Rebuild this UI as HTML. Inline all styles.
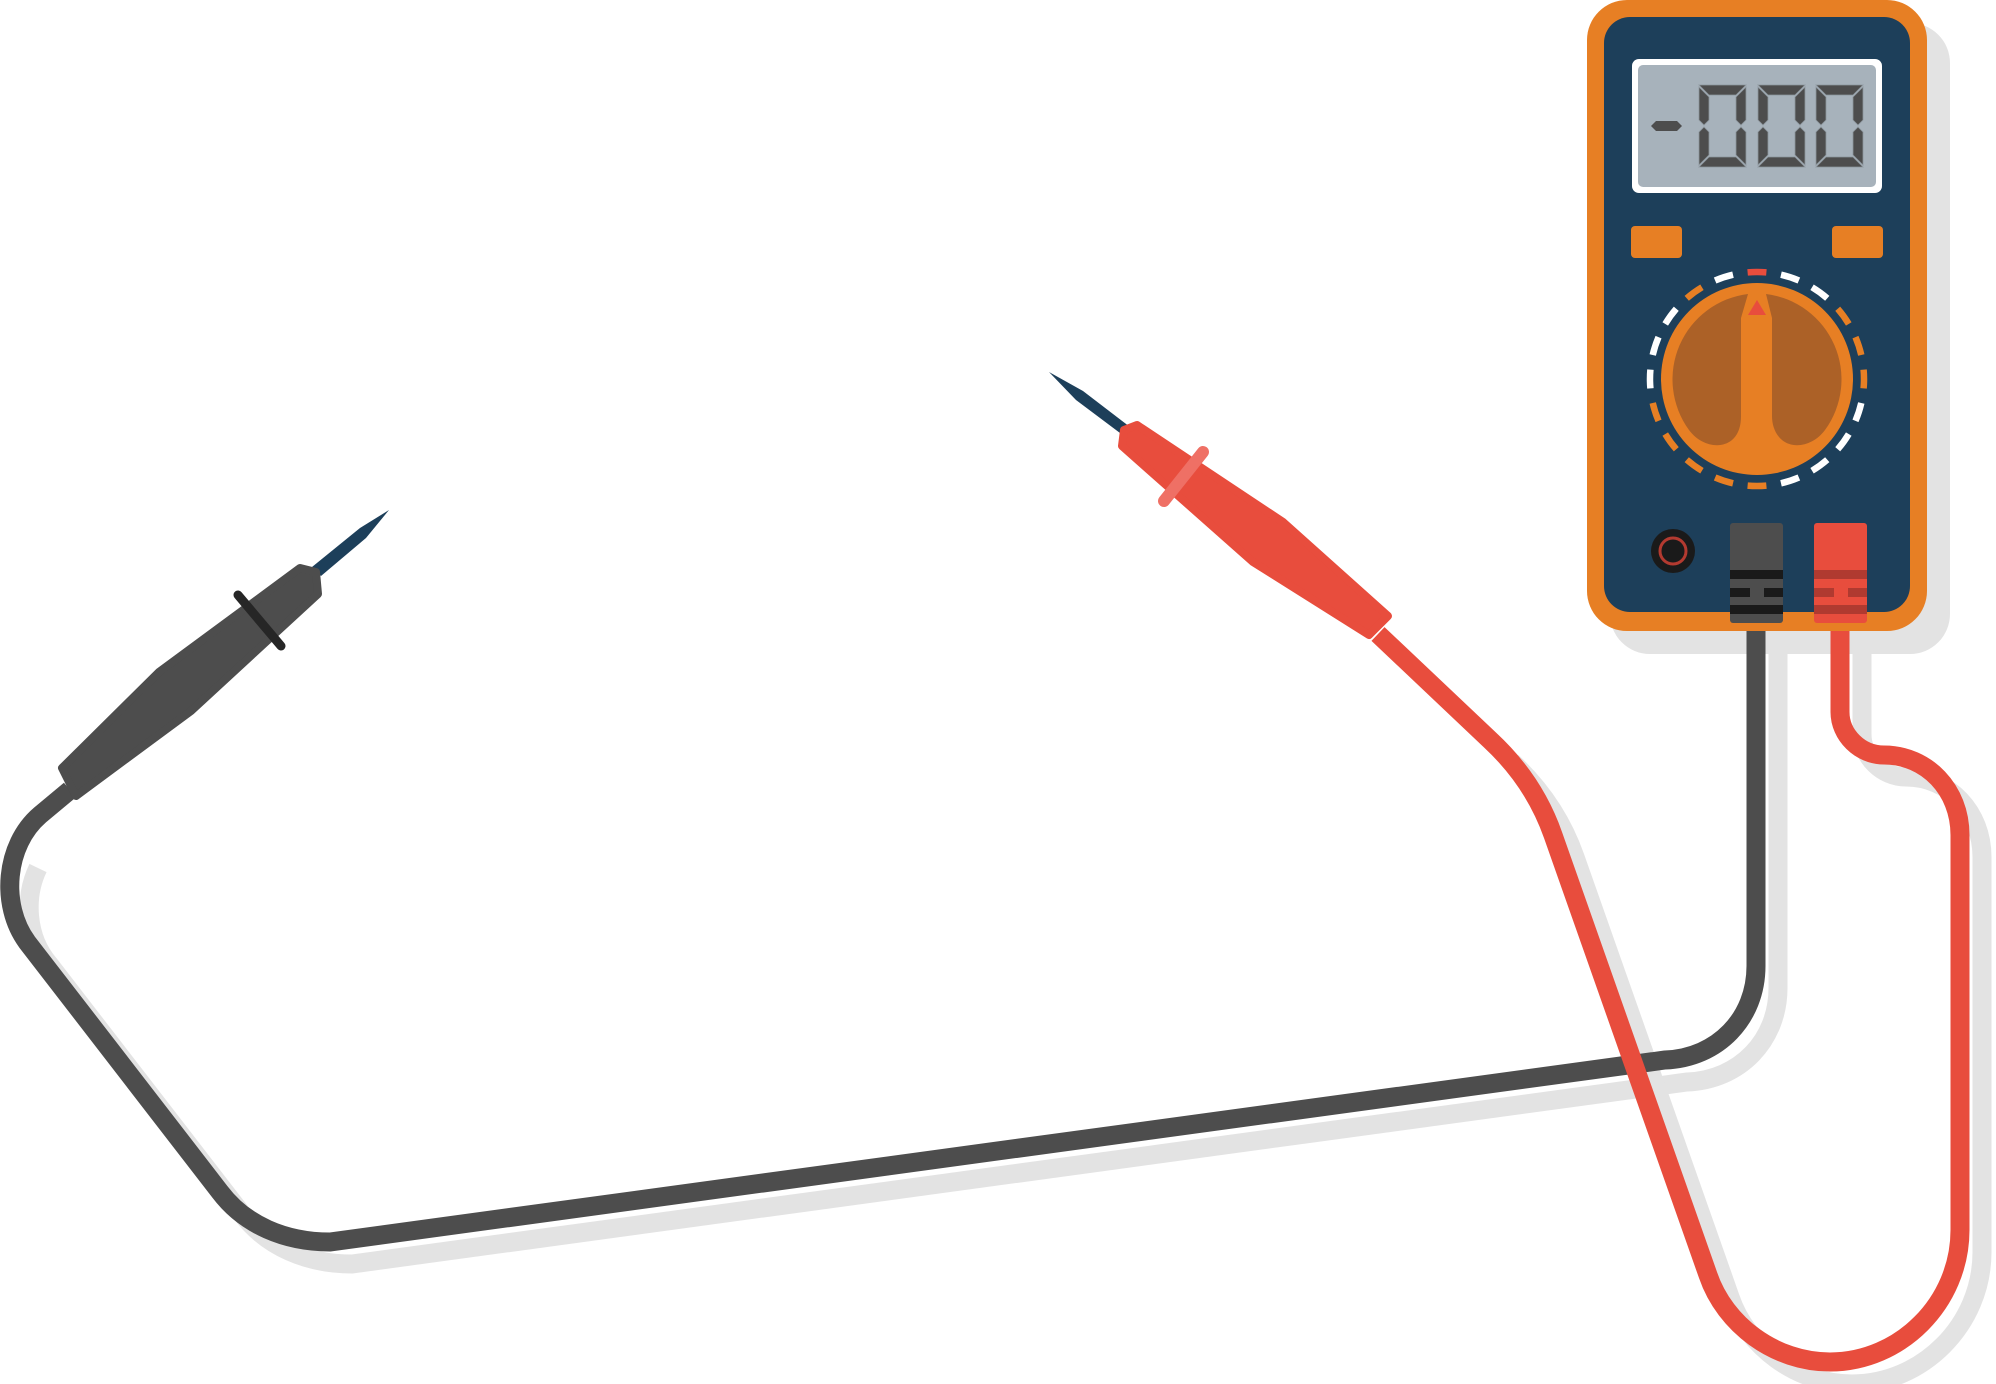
<!DOCTYPE html>
<html><head><meta charset="utf-8"><style>
html,body{margin:0;padding:0;background:#fff;}
svg{display:block;}
</style></head><body>
<svg width="1996" height="1384" viewBox="0 0 1996 1384" xmlns="http://www.w3.org/2000/svg">
<!-- shadows -->
<g fill="none" stroke="#e3e3e3" stroke-width="19" transform="translate(22,22)">
  <path d="M 16,846 C 2,875 4,915 27,942 L 220,1192 C 245,1225 285,1242 330,1242 L 1665,1060 C 1718,1058 1756,1018 1756,966 L 1756,626"/>
  <path d="M 1840,626 L 1840,712 C 1840,735 1860,755 1884,755 C 1927,755 1960,790 1960,835 L 1960,1230 C 1960,1303 1900,1362 1830,1362 C 1775,1362 1725,1325 1708,1275 L 1553,835 C 1540,798 1518,766 1490,740"/>
</g>
<rect x="1610" y="23" width="340" height="631" rx="40" fill="#e3e3e3"/>
<!-- cables -->
<g fill="none" stroke-width="19" stroke-linecap="butt">
  <path stroke="#4d4d4d" d="M 70,790 L 40,815 C 5,845 0,905 27,942 L 220,1192 C 245,1225 285,1242 330,1242 L 1665,1060 C 1718,1058 1756,1018 1756,966 L 1756,615"/>
  <path stroke="#e84d3d" d="M 1840,615 L 1840,712 C 1840,735 1860,755 1884,755 C 1927,755 1960,790 1960,835 L 1960,1230 C 1960,1303 1900,1362 1830,1362 C 1775,1362 1725,1325 1708,1275 L 1553,835 C 1540,798 1518,766 1490,740 L 1378,634"/>
</g>
<!-- multimeter -->
<rect x="1587" y="0" width="340" height="631" rx="40" fill="#e77f24"/>
<rect x="1604" y="17" width="306" height="595" rx="26" fill="#1d3f5a"/>
<rect x="1632" y="59" width="250" height="134" rx="7" fill="#ffffff"/>
<rect x="1638" y="65" width="238" height="122" rx="5" fill="#a7b2bb"/>
<polygon points="1651,126 1656,121 1677,121 1682,126 1677,131 1656,131" fill="#4d4d4d"/>
<g fill="#4d4d4d" stroke="#8c959c" stroke-width="0.8">
  <g id="d1">
    <polygon points="1699,85 1746,85 1736,95 1709,95"/>
    <polygon points="1699,87 1709,97 1709,120 1704,125 1699,120"/>
    <polygon points="1746,87 1736,97 1736,120 1741,125 1746,120"/>
    <polygon points="1699,132 1704,127 1709,132 1709,155 1699,165"/>
    <polygon points="1746,132 1741,127 1736,132 1736,155 1746,165"/>
    <polygon points="1709,157 1736,157 1746,167 1699,167"/>
  </g>
  <use href="#d1" transform="translate(59,0)"/>
  <use href="#d1" transform="translate(117,0)"/>
</g>
<rect x="1631" y="226" width="51" height="32" rx="4" fill="#e77f24"/>
<rect x="1832" y="226" width="51" height="32" rx="4" fill="#e77f24"/>
<!-- dial -->
<g fill="none" stroke-width="6.5">
  <path d="M 1747.6,272.4 A 107 107 0 0 1 1766.4,272.4" stroke="#e84d3d"/>
  <path d="M 1747.6,272.4 A 107 107 0 0 1 1766.4,272.4" stroke="#fff" transform="rotate(18 1757 379)"/>
  <path d="M 1747.6,272.4 A 107 107 0 0 1 1766.4,272.4" stroke="#fff" transform="rotate(36 1757 379)"/>
  <path d="M 1747.6,272.4 A 107 107 0 0 1 1766.4,272.4" stroke="#e77f24" transform="rotate(54 1757 379)"/>
  <path d="M 1747.6,272.4 A 107 107 0 0 1 1766.4,272.4" stroke="#e77f24" transform="rotate(72 1757 379)"/>
  <path d="M 1747.6,272.4 A 107 107 0 0 1 1766.4,272.4" stroke="#e77f24" transform="rotate(90 1757 379)"/>
  <path d="M 1747.6,272.4 A 107 107 0 0 1 1766.4,272.4" stroke="#fff" transform="rotate(108 1757 379)"/>
  <path d="M 1747.6,272.4 A 107 107 0 0 1 1766.4,272.4" stroke="#fff" transform="rotate(126 1757 379)"/>
  <path d="M 1747.6,272.4 A 107 107 0 0 1 1766.4,272.4" stroke="#fff" transform="rotate(144 1757 379)"/>
  <path d="M 1747.6,272.4 A 107 107 0 0 1 1766.4,272.4" stroke="#fff" transform="rotate(162 1757 379)"/>
  <path d="M 1747.6,272.4 A 107 107 0 0 1 1766.4,272.4" stroke="#e77f24" transform="rotate(180 1757 379)"/>
  <path d="M 1747.6,272.4 A 107 107 0 0 1 1766.4,272.4" stroke="#e77f24" transform="rotate(198 1757 379)"/>
  <path d="M 1747.6,272.4 A 107 107 0 0 1 1766.4,272.4" stroke="#e77f24" transform="rotate(216 1757 379)"/>
  <path d="M 1747.6,272.4 A 107 107 0 0 1 1766.4,272.4" stroke="#e77f24" transform="rotate(234 1757 379)"/>
  <path d="M 1747.6,272.4 A 107 107 0 0 1 1766.4,272.4" stroke="#e77f24" transform="rotate(252 1757 379)"/>
  <path d="M 1747.6,272.4 A 107 107 0 0 1 1766.4,272.4" stroke="#fff" transform="rotate(270 1757 379)"/>
  <path d="M 1747.6,272.4 A 107 107 0 0 1 1766.4,272.4" stroke="#fff" transform="rotate(288 1757 379)"/>
  <path d="M 1747.6,272.4 A 107 107 0 0 1 1766.4,272.4" stroke="#fff" transform="rotate(306 1757 379)"/>
  <path d="M 1747.6,272.4 A 107 107 0 0 1 1766.4,272.4" stroke="#e77f24" transform="rotate(324 1757 379)"/>
  <path d="M 1747.6,272.4 A 107 107 0 0 1 1766.4,272.4" stroke="#fff" transform="rotate(342 1757 379)"/>
</g>
<circle cx="1757" cy="379" r="96" fill="#e77f24"/>
<path d="M 1741,318 L 1748,294 A 86 86 0 0 0 1689,430 C 1700,445 1720,450 1732,440 C 1739,434 1741,425 1741,416 Z" fill="#ac6127"/>
<path d="M 1772,318 L 1766,294 A 86 86 0 0 1 1825,430 C 1814,445 1794,450 1782,440 C 1775,434 1772,425 1772,416 Z" fill="#ac6127"/>
<polygon points="1748,315 1757,300 1766,315" fill="#e84d3d"/>
<!-- jack -->
<circle cx="1673" cy="551" r="22" fill="#1a1a1a"/>
<circle cx="1673" cy="551" r="13" fill="#1a1a1a" stroke="#b33a30" stroke-width="3"/>
<!-- plugs -->
<rect x="1730" y="523" width="53" height="100" rx="3" fill="#4d4d4d"/>
<rect x="1730" y="570" width="53" height="9" fill="#1a1a1a"/>
<rect x="1730" y="588" width="20" height="9" fill="#1a1a1a"/>
<rect x="1764" y="588" width="19" height="9" fill="#1a1a1a"/>
<rect x="1730" y="605" width="53" height="9" fill="#1a1a1a"/>
<rect x="1814" y="523" width="53" height="100" rx="3" fill="#e84d3d"/>
<rect x="1814" y="570" width="53" height="9" fill="#b03a30"/>
<rect x="1814" y="588" width="20" height="9" fill="#b03a30"/>
<rect x="1848" y="588" width="19" height="9" fill="#b03a30"/>
<rect x="1814" y="605" width="53" height="9" fill="#b03a30"/>
<!-- black probe -->
<polygon points="389,510 360,528 312,567 321,576 366,538" fill="#1d3f5a"/>
<polygon points="300,568 159,672 62,768 76,796 191,711 318,594 316,572" fill="#4d4d4d" stroke="#4d4d4d" stroke-width="8" stroke-linejoin="round"/>
<line x1="238" y1="595" x2="281" y2="646" stroke="#262626" stroke-width="9" stroke-linecap="round"/>
<!-- red probe -->
<polygon points="1049,372 1083,391 1130,427 1124,436 1076,400" fill="#1d3f5a"/>
<polygon points="1137,425 1283,522 1388,616 1369,635 1253,562 1122,446 1124,430" fill="#e84d3d" stroke="#e84d3d" stroke-width="8" stroke-linejoin="round"/>
<line x1="1164" y1="501" x2="1203" y2="452" stroke="#ef7065" stroke-width="12" stroke-linecap="round"/>
</svg>
</body></html>
